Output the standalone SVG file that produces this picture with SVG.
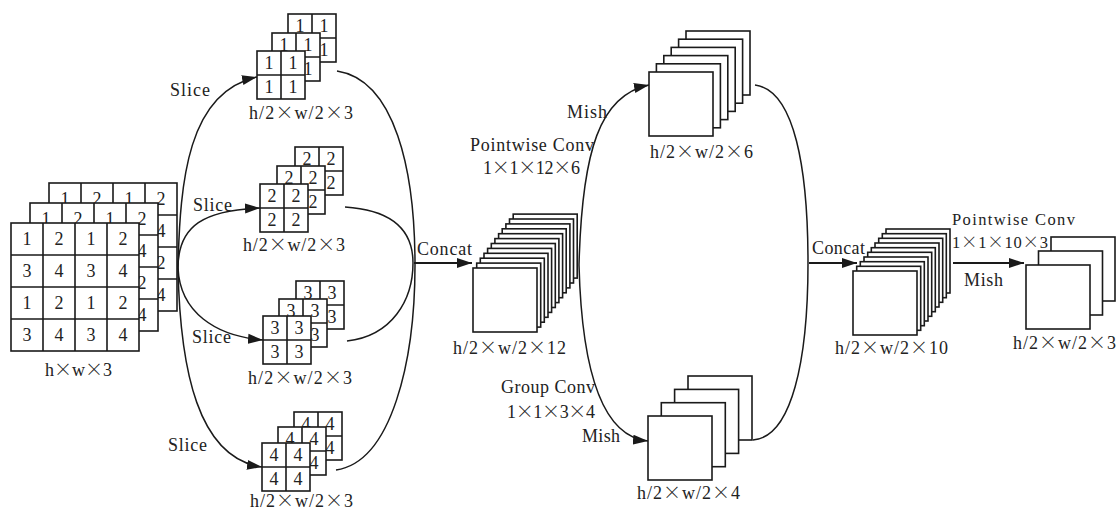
<svg xmlns="http://www.w3.org/2000/svg" xmlns:xlink="http://www.w3.org/1999/xlink" width="1118" height="512" viewBox="0 0 1118 512">
<style>
.ln{fill:none;stroke:#1a1a1a;stroke-width:1.6}
.bx{fill:#fff;stroke:#1a1a1a;stroke-width:1.6}
.cv{fill:none;stroke:#1a1a1a;stroke-width:1.5}
.ar{fill:none;stroke:#1a1a1a;stroke-width:2;marker-end:url(#ah)}
.arc{fill:none;stroke:#1a1a1a;stroke-width:1.5;marker-end:url(#ah)}
text{font-family:"Liberation Serif","Times New Roman",serif;font-size:18px;fill:#222}
.x{font-family:"Noto Sans CJK SC","Liberation Serif",sans-serif;font-weight:300}
.c{text-anchor:middle}
.s{font-size:16.5px}
</style>
<defs>
<marker id="ah" markerWidth="16" markerHeight="11" refX="15" refY="5.5" orient="auto" markerUnits="userSpaceOnUse"><path d="M0,0.5 L15,5.5 L0,10.5 z" fill="#1a1a1a"/></marker>
<g id="bigGrid">
<rect width="128" height="128" class="bx"/>
<path d="M32,0V128M64,0V128M96,0V128M0,32H128M0,64H128M0,96H128" class="ln"/>
<text class="c" x="16" y="22">1</text><text class="c" x="48" y="22">2</text><text class="c" x="80" y="22">1</text><text class="c" x="112" y="22">2</text>
<text class="c" x="16" y="54">3</text><text class="c" x="48" y="54">4</text><text class="c" x="80" y="54">3</text><text class="c" x="112" y="54">4</text>
<text class="c" x="16" y="86">1</text><text class="c" x="48" y="86">2</text><text class="c" x="80" y="86">1</text><text class="c" x="112" y="86">2</text>
<text class="c" x="16" y="118">3</text><text class="c" x="48" y="118">4</text><text class="c" x="80" y="118">3</text><text class="c" x="112" y="118">4</text>
</g>
<g id="sg1"><rect width="48" height="48" class="bx"/><path d="M24,0V48M0,24H48" class="ln"/><text class="c" x="12" y="18">1</text><text class="c" x="36" y="18">1</text><text class="c" x="12" y="42">1</text><text class="c" x="36" y="42">1</text></g>
<g id="sg2"><rect width="48" height="48" class="bx"/><path d="M24,0V48M0,24H48" class="ln"/><text class="c" x="12" y="18">2</text><text class="c" x="36" y="18">2</text><text class="c" x="12" y="42">2</text><text class="c" x="36" y="42">2</text></g>
<g id="sg3"><rect width="48" height="48" class="bx"/><path d="M24,0V48M0,24H48" class="ln"/><text class="c" x="12" y="18">3</text><text class="c" x="36" y="18">3</text><text class="c" x="12" y="42">3</text><text class="c" x="36" y="42">3</text></g>
<g id="sg4"><rect width="48" height="48" class="bx"/><path d="M24,0V48M0,24H48" class="ln"/><text class="c" x="12" y="18">4</text><text class="c" x="36" y="18">4</text><text class="c" x="12" y="42">4</text><text class="c" x="36" y="42">4</text></g>
</defs>
<rect width="1118" height="512" fill="#fff"/>

<g id="connectors">
<path class="arc" d="M178,268 C180,180 188,92 257,77"/>
<path class="arc" d="M178,268 C178,225 205,210 260,208"/>
<path class="arc" d="M178,268 C180,312 215,336 263,340"/>
<path class="arc" d="M178,268 C180,370 198,458 262,467"/>
<path class="cv" d="M337,71 C395,80 415,170 415,265"/>
<path class="cv" d="M336,470 C392,462 415,360 415,265"/>
<path class="cv" d="M345,207 C392,210 413,230 413,263"/>
<path class="cv" d="M347,341 C392,336 413,300 413,263"/>
<path class="ar" d="M414,263 H472"/>
<path class="arc" d="M579,265 C582,150 600,95 649,85"/>
<path class="arc" d="M579,265 C582,380 605,437 648,441"/>
<path class="cv" d="M755,85 C795,90 808,170 808,263"/>
<path class="cv" d="M753,440 C792,437 808,360 808,263"/>
<path class="ar" d="M809,263 H857"/>
<path class="ar" d="M953,263 H1024"/>
</g>

<g id="input">
<use xlink:href="#bigGrid" x="49" y="183"/>
<use xlink:href="#bigGrid" x="30" y="203"/>
<use xlink:href="#bigGrid" x="11" y="223"/>
<text x="45" y="376" textLength="67" lengthAdjust="spacing">h<tspan class="x">×</tspan>w<tspan class="x">×</tspan>3</text>
</g>

<g id="slice1">
<use xlink:href="#sg1" x="288" y="14"/>
<use xlink:href="#sg1" x="272" y="33"/>
<use xlink:href="#sg1" x="257" y="51"/>
<text x="249" y="119" textLength="104" lengthAdjust="spacing">h/2<tspan class="x">×</tspan>w/2<tspan class="x">×</tspan>3</text>
<text x="170" y="96" textLength="40" lengthAdjust="spacing">Slice</text>
</g>
<g id="slice2">
<use xlink:href="#sg2" x="295" y="147"/>
<use xlink:href="#sg2" x="277" y="166"/>
<use xlink:href="#sg2" x="260" y="184"/>
<text x="243" y="251" textLength="102" lengthAdjust="spacing">h/2<tspan class="x">×</tspan>w/2<tspan class="x">×</tspan>3</text>
<text x="193" y="211" textLength="39" lengthAdjust="spacing">Slice</text>
</g>
<g id="slice3">
<use xlink:href="#sg3" x="296" y="281"/>
<use xlink:href="#sg3" x="279" y="299"/>
<use xlink:href="#sg3" x="263" y="316"/>
<text x="248" y="384" textLength="104" lengthAdjust="spacing">h/2<tspan class="x">×</tspan>w/2<tspan class="x">×</tspan>3</text>
<text x="192" y="343" textLength="39" lengthAdjust="spacing">Slice</text>
</g>
<g id="slice4">
<use xlink:href="#sg4" x="294" y="412"/>
<use xlink:href="#sg4" x="278" y="427"/>
<use xlink:href="#sg4" x="262" y="443"/>
<text x="250" y="507" textLength="103" lengthAdjust="spacing">h/2<tspan class="x">×</tspan>w/2<tspan class="x">×</tspan>3</text>
<text x="168" y="451" textLength="39" lengthAdjust="spacing">Slice</text>
</g>

<g id="concat1">
<rect class="bx" x="513.2" y="214.1" width="64" height="64"/>
<rect class="bx" x="509.5" y="219" width="64" height="64"/>
<rect class="bx" x="505.9" y="223.9" width="64" height="64"/>
<rect class="bx" x="502.2" y="228.8" width="64" height="64"/>
<rect class="bx" x="498.6" y="233.7" width="64" height="64"/>
<rect class="bx" x="494.9" y="238.6" width="64" height="64"/>
<rect class="bx" x="491.3" y="243.5" width="64" height="64"/>
<rect class="bx" x="487.6" y="248.4" width="64" height="64"/>
<rect class="bx" x="484" y="253.3" width="64" height="64"/>
<rect class="bx" x="480.3" y="258.2" width="64" height="64"/>
<rect class="bx" x="476.7" y="263.1" width="64" height="64"/>
<rect class="bx" x="473" y="268" width="64" height="64"/>
<text x="417" y="255" textLength="55" lengthAdjust="spacing">Concat</text>
<text x="453" y="354" textLength="113" lengthAdjust="spacing">h/2<tspan class="x">×</tspan>w/2<tspan class="x">×</tspan>12</text>
<text x="470" y="151" textLength="124" lengthAdjust="spacing">Pointwise Conv</text>
<text x="483" y="174" textLength="97" lengthAdjust="spacing">1<tspan class="x">×</tspan>1<tspan class="x">×</tspan>12<tspan class="x">×</tspan>6</text>
<text x="501" y="393" textLength="94" lengthAdjust="spacing">Group Conv</text>
<text x="507" y="418" textLength="88" lengthAdjust="spacing">1<tspan class="x">×</tspan>1<tspan class="x">×</tspan>3<tspan class="x">×</tspan>4</text>
</g>

<g id="branch6">
<rect class="bx" x="686" y="31" width="64" height="64"/>
<rect class="bx" x="678.6" y="39.2" width="64" height="64"/>
<rect class="bx" x="671.2" y="47.4" width="64" height="64"/>
<rect class="bx" x="663.8" y="55.6" width="64" height="64"/>
<rect class="bx" x="656.4" y="63.8" width="64" height="64"/>
<rect class="bx" x="649" y="72" width="64" height="64"/>
<text x="567" y="118" textLength="40" lengthAdjust="spacing">Mish</text>
<text x="650" y="158" textLength="103" lengthAdjust="spacing">h/2<tspan class="x">×</tspan>w/2<tspan class="x">×</tspan>6</text>
</g>

<g id="branch4">
<rect class="bx" x="688" y="376" width="64" height="64"/>
<rect class="bx" x="674.6" y="389.4" width="64" height="64"/>
<rect class="bx" x="661.3" y="402.7" width="64" height="64"/>
<rect class="bx" x="648" y="416" width="64" height="64"/>
<text x="582" y="442" textLength="38" lengthAdjust="spacing">Mish</text>
<text x="637" y="499" textLength="103" lengthAdjust="spacing">h/2<tspan class="x">×</tspan>w/2<tspan class="x">×</tspan>4</text>
</g>

<g id="concat2">
<rect class="bx" x="886" y="229" width="64" height="64"/>
<rect class="bx" x="882.3" y="233.7" width="64" height="64"/>
<rect class="bx" x="878.7" y="238.3" width="64" height="64"/>
<rect class="bx" x="875" y="243" width="64" height="64"/>
<rect class="bx" x="871.3" y="247.7" width="64" height="64"/>
<rect class="bx" x="867.7" y="252.3" width="64" height="64"/>
<rect class="bx" x="864" y="257" width="64" height="64"/>
<rect class="bx" x="860.3" y="261.7" width="64" height="64"/>
<rect class="bx" x="856.7" y="266.3" width="64" height="64"/>
<rect class="bx" x="853" y="271" width="64" height="64"/>
<text x="812" y="254" textLength="53" lengthAdjust="spacing">Concat</text>
<text x="835" y="354" textLength="113" lengthAdjust="spacing">h/2<tspan class="x">×</tspan>w/2<tspan class="x">×</tspan>10</text>
</g>

<g id="output">
<rect class="bx" x="1051" y="237" width="64" height="64"/>
<rect class="bx" x="1038.5" y="251" width="64" height="64"/>
<rect class="bx" x="1026" y="265" width="64" height="64"/>
<text class="s" x="952" y="225" textLength="123" lengthAdjust="spacing">Pointwise Conv</text>
<text class="s" x="952" y="248" textLength="96" lengthAdjust="spacing">1<tspan class="x">×</tspan>1<tspan class="x">×</tspan>10<tspan class="x">×</tspan>3</text>
<text x="964" y="286" textLength="39" lengthAdjust="spacing">Mish</text>
<text x="1013" y="349" textLength="103" lengthAdjust="spacing">h/2<tspan class="x">×</tspan>w/2<tspan class="x">×</tspan>3</text>
</g>
</svg>
